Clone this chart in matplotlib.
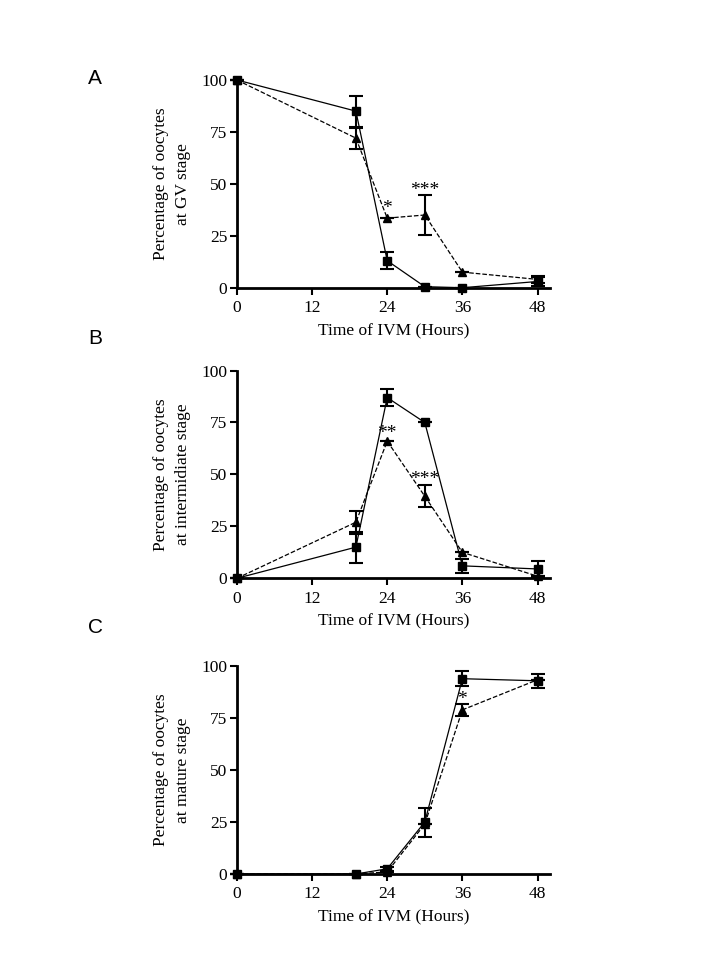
import numpy as np
import matplotlib.pyplot as plt

plt.rcParams['font.family'] = 'Liberation Serif'

hours = [0, 19, 24, 30, 36, 48]

# panel A - GV stage
gv_sq = [100, 85, 13, 0.5, 0, 3]
gv_sq_err = [0, 7.5, 4, 0, 0, 2]
gv_tri = [100, 72, 33.5, 35, 7.5, 4]
gv_tri_err = [0, 5, 0, 9.5, 0, 1.5]

# panel B - intermediate stage
im_sq = [0, 15, 87, 75, 6, 4.5]
im_sq_err = [0, 7.5, 4, 0, 3.5, 3.8]
im_tri = [0, 27, 66, 39.5, 12.5, 1]
im_tri_err = [0, 5.5, 0, 5.2, 0, 0]

# panel C - mature stage
mt_sq = [0, 0, 2.5, 25, 94, 93]
mt_sq_err = [0, 0, 1, 7, 3.5, 3.5]
mt_tri = [0, 0, 1, 24, 79, 93.5]
mt_tri_err = [0, 0, 0, 0, 3, 0]

panels = [
    ('A', 'Percentage of oocytes\nat GV stage', gv_sq, gv_sq_err, gv_tri, gv_tri_err,
     [(24, 38, '*'), (30, 47, '***')]),
    ('B', 'Percentage of oocytes\nat intermidiate stage', im_sq, im_sq_err, im_tri, im_tri_err,
     [(24, 69.5, '**'), (30, 47.5, '***')]),
    ('C', 'Percentage of oocytes\nat mature stage', mt_sq, mt_sq_err, mt_tri, mt_tri_err,
     [(36, 84, '*')]),
]

fig = plt.figure(figsize=(7.2, 9.6), dpi=100)
bottoms = [0.7003, 0.3976, 0.0896]
letter_y = [0.918, 0.647, 0.346]

for (letter, ylab, sq, sqe, tri, trie, stars), b, ly in zip(panels, bottoms, letter_y):
    ax = fig.add_axes([0.329, b, 0.435, 0.2164])
    ax.errorbar(hours, tri, yerr=trie, color='black', ls='--', lw=0.9, marker='^',
                ms=6, capsize=5, capthick=1.5, elinewidth=1.5, clip_on=False, zorder=3)
    ax.errorbar(hours, sq, yerr=sqe, color='black', ls='-', lw=0.9, marker='s',
                ms=6, capsize=5, capthick=1.5, elinewidth=1.5, clip_on=False, zorder=4)
    for x, y, s in stars:
        ax.text(x, y, s, ha='center', va='center', fontsize=14)
    ax.set_xlim(0, 50)
    ax.set_ylim(0, 100)
    ax.set_xticks([0, 12, 24, 36, 48])
    ax.set_yticks([0, 25, 50, 75, 100])
    ax.spines['top'].set_visible(False)
    ax.spines['right'].set_visible(False)
    ax.spines['left'].set_linewidth(2)
    ax.spines['bottom'].set_linewidth(2)
    ax.tick_params(direction='out', width=1.5, length=5, labelsize=12.5)
    ax.tick_params(axis='x', pad=4)
    ax.tick_params(axis='y', pad=2)
    ax.set_xlabel('Time of IVM (Hours)', fontsize=12.5, labelpad=5)
    ax.set_ylabel(ylab, fontsize=12.5, labelpad=7, linespacing=1.55)
    fig.text(0.132, ly, letter, fontsize=15, family='Liberation Sans', ha='center', va='center')

fig.savefig('out.png', dpi=100)
